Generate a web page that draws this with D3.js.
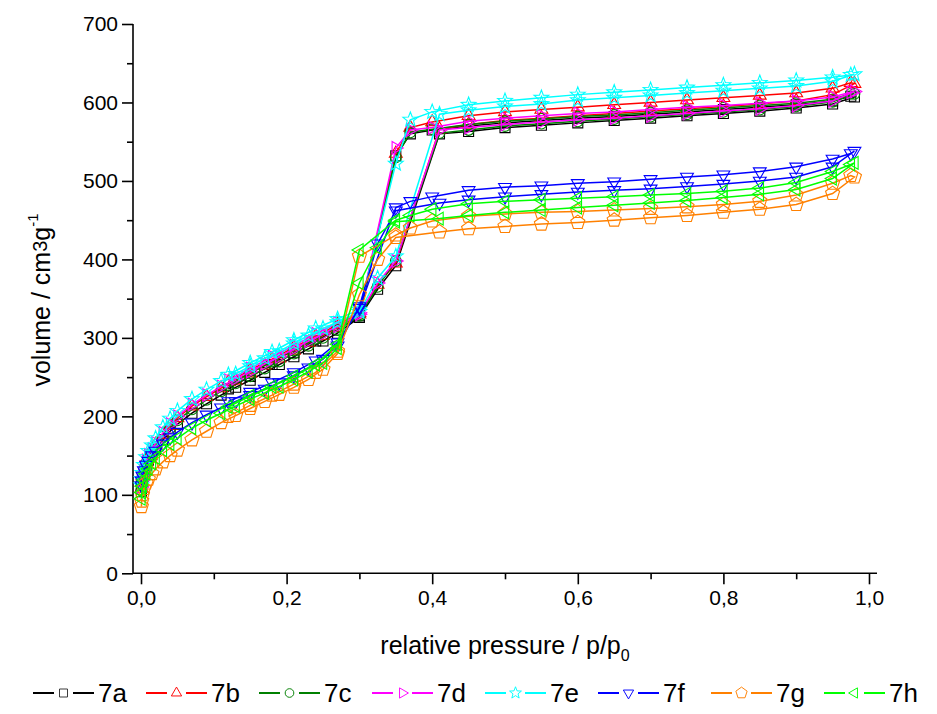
<!DOCTYPE html>
<html>
<head>
<meta charset="utf-8">
<script src="https://cdn.jsdelivr.net/npm/d3@7"></script>
<style>
  html, body { margin: 0; padding: 0; background: #fff; }
  svg { display: block; font-family: "Liberation Sans", Arial, sans-serif; }
</style>
</head>
<body>
<svg id="chart" width="937" height="714"></svg>
<script>
// ---------------- data ----------------
const seriesNames = ["7a", "7b", "7c", "7d", "7e", "7f", "7g", "7h"];
const seriesColors = ["#000000", "#ff0000", "#008000", "#ff00ff", "#00ffff", "#0000ff", "#ff8000", "#00ff00"];
const seriesShapes = ["square", "triUp", "circle", "triRight", "star", "triDown", "pentagon", "triLeft"];

// adsorption branch relative pressures (shared)
const adsP = [0.0005, 0.001, 0.002, 0.004, 0.007, 0.01, 0.015, 0.02, 0.03, 0.04, 0.05, 0.07, 0.09, 0.11, 0.13, 0.15, 0.17, 0.19, 0.21, 0.23, 0.25, 0.27,
              0.30, 0.325, 0.35, 0.41, 0.45, 0.50, 0.55, 0.60, 0.65, 0.70, 0.75, 0.80, 0.85, 0.90, 0.95, 0.98];
// desorption branch relative pressures (shared)
const desP = [0.975, 0.95, 0.90, 0.85, 0.80, 0.75, 0.70, 0.65, 0.60, 0.55, 0.50, 0.45, 0.40, 0.37, 0.35, 0.30, 0.27, 0.24, 0.21, 0.18, 0.15, 0.12];

// adsorbed volume (cm3/g), adsorption branch
const ads7a = [104,112,120,128,137,144,151,158,170,181,190,204,216,227,237,246,256,266,276,286,296,306, 326,362,392,560,563,568,571,574,577,580,583,586,589,593,598,607];
const ads7b = [108,116,124,133,142,149,156,164,177,188,198,213,225,236,246,255,265,274,284,294,303,313, 330,368,395,566,572,577,580,583,586,589,592,595,598,602,610,624];
const ads7c = [106,114,122,131,140,147,154,161,174,185,195,209,221,232,242,251,261,270,280,290,300,310, 328,365,398,561,565,570,573,576,579,582,585,588,591,595,601,611];
const ads7d = [110,118,126,135,144,151,158,166,179,190,200,215,227,238,248,257,267,276,286,296,305,315, 330,370,398,565,568,572,575,578,580,583,586,589,592,596,602,614];
const ads7e = [112,120,128,138,148,156,163,172,186,197,207,222,234,245,254,264,274,283,293,303,312,320, 333,376,404,585,590,595,598,603,606,609,612,615,618,621,627,636];
const ads7f = [112,118,124,131,138,143,150,156,165,173,180,192,202,211,219,227,235,243,252,262,273,290, 340,420,462,472,476,480,483,486,488,490,493,496,500,505,518,538];
const ads7g = [85,92,100,108,115,120,127,133,142,150,157,170,181,192,201,210,219,228,237,247,260,280, 355,400,428,435,439,442,445,447,450,453,456,460,464,470,484,505];
const ads7h = [95,103,111,119,127,133,140,147,157,165,172,185,195,204,213,222,230,238,247,257,268,287, 370,415,448,452,456,460,463,466,469,472,475,479,483,489,503,523];

// adsorbed volume (cm3/g), desorption branch
const des7a = [608,602,597,594,591,588,585,582,580,577,574,570,565,560,532,328,310,296,281,266,251,235];
const des7b = [625,618,612,609,606,603,600,597,594,591,588,583,575,568,535,332,317,302,288,273,259,244];
const des7c = [611,604,599,596,593,590,587,584,582,579,576,572,566,562,530,330,314,299,284,270,255,240];
const des7d = [613,607,602,599,596,594,591,588,586,583,580,576,568,565,542,332,319,305,290,276,261,246];
const des7e = [635,632,628,625,622,619,616,613,610,606,602,597,588,578,522,336,324,312,297,282,268,253];
const des7f = [535,528,518,512,508,505,502,499,497,494,492,488,480,474,466,338,294,271,256,243,231,219];
const des7g = [507,497,482,474,470,467,465,463,461,460,458,455,449,440,431,404,283,256,241,227,214,200];
const des7h = [521,512,498,491,487,484,482,480,478,476,474,471,464,456,450,412,292,266,251,238,226,212];

const adsValues = [ads7a, ads7b, ads7c, ads7d, ads7e, ads7f, ads7g, ads7h];
const desValues = [des7a, des7b, des7c, des7d, des7e, des7f, des7g, des7h];

const xTicksMajor = [0, 0.2, 0.4, 0.6, 0.8, 1.0];
const xTicksMinor = [0.1, 0.3, 0.5, 0.7, 0.9];
const yTicksMajor = [0, 100, 200, 300, 400, 500, 600, 700];
const yTicksMinor = [50, 150, 250, 350, 450, 550, 650];

// ---------------- drawing ----------------
const svg = d3.select("#chart");
const x = d3.scaleLinear().domain([-0.011, 1.011]).range([133, 877]);
const y = d3.scaleLinear().domain([0, 700]).range([573.3, 24]);

const fmtX = v => d3.format(".1f")(v).replace(".", ",");

// x axis
const gx = svg.append("g").attr("transform", `translate(0,${y(0)})`);
gx.call(d3.axisBottom(x).tickValues(xTicksMajor).tickSize(11).tickPadding(6).tickFormat(fmtX));
gx.append("g").call(d3.axisBottom(x).tickValues(xTicksMinor).tickSize(6).tickFormat(""));
// y axis
const gy = svg.append("g").attr("transform", `translate(${x.range()[0]},0)`);
gy.call(d3.axisLeft(y).tickValues(yTicksMajor).tickSize(11).tickPadding(4).tickFormat(d3.format("d")));
gy.append("g").call(d3.axisLeft(y).tickValues(yTicksMinor).tickSize(6).tickFormat(""));

svg.selectAll(".domain").attr("stroke", "#000").attr("stroke-width", 1.6);
svg.selectAll(".tick line").attr("stroke", "#000").attr("stroke-width", 1.6);
svg.selectAll(".tick text").attr("fill", "#000").style("font-size", "21px")
   .style("font-family", '"Liberation Sans", Arial, sans-serif');
gx.selectAll("path.domain").attr("d", `M${x.range()[0]},0H${x.range()[1]}`);
gy.selectAll("path.domain").attr("d", `M0,${y.range()[1]}V${y.range()[0]}`);
gx.selectAll("g > g path.domain").remove();
gy.selectAll("g > g path.domain").remove();

// axis titles
const xt = svg.append("text").attr("x", 505).attr("y", 654).attr("text-anchor", "middle")
  .style("font-size", "25px").attr("fill", "#000");
xt.append("tspan").text("relative pressure / p/p");
xt.append("tspan").attr("dy", 7).style("font-size", "16px").text("0");

const yt = svg.append("text").attr("transform", "translate(50,300) rotate(-90)").attr("text-anchor", "middle")
  .style("font-size", "25px").attr("fill", "#000");
yt.append("tspan").text("volume / cm");
yt.append("tspan").style("font-size", "20px").attr("dy", -3).text("3");
yt.append("tspan").attr("dy", 3).text("g");
yt.append("tspan").style("font-size", "15px").attr("dy", -12).text("-1");

// marker shapes
function markerPath(shape) {
  const p = d3.path();
  const poly = (n, r, rot) => {
    for (let k = 0; k < n; k++) {
      const a = (rot + k * 360 / n) * Math.PI / 180;
      const px = r * Math.cos(a), py = r * Math.sin(a);
      if (k === 0) p.moveTo(px, py); else p.lineTo(px, py);
    }
    p.closePath();
  };
  switch (shape) {
    case "square": p.rect(-5, -5, 10, 10); break;
    case "circle": p.arc(0, 0, 5.4, 0, 2 * Math.PI); p.closePath(); break;
    case "triUp": poly(3, 7.4, -90); break;
    case "triDown": poly(3, 7.4, 90); break;
    case "triRight": poly(3, 7.4, 0); break;
    case "triLeft": poly(3, 7.4, 180); break;
    case "pentagon": poly(5, 7.4, -90); break;
    case "star": {
      for (let k = 0; k < 10; k++) {
        const r = k % 2 === 0 ? 7.8 : 3.3;
        const a = (-90 + k * 36) * Math.PI / 180;
        const px = r * Math.cos(a), py = r * Math.sin(a);
        if (k === 0) p.moveTo(px, py); else p.lineTo(px, py);
      }
      p.closePath();
      break;
    }
  }
  return p.toString();
}

const line = d3.line().x(d => x(d[0])).y(d => y(d[1]));
const plot = svg.append("g");

seriesNames.forEach((name, i) => {
  const pts = adsP.map((p, j) => [p, adsValues[i][j]])
    .concat(desP.map((p, j) => [p, desValues[i][j]]));
  const g = plot.append("g").attr("class", "series-" + name);
  g.append("path").datum(pts).attr("d", line)
    .attr("fill", "none").attr("stroke", seriesColors[i]).attr("stroke-width", 1.5);
  g.selectAll("path.m").data(pts).enter().append("path").attr("class", "m")
    .attr("d", markerPath(seriesShapes[i]))
    .attr("transform", d => `translate(${x(d[0])},${y(d[1])})`)
    .attr("fill", "none").attr("stroke", seriesColors[i]).attr("stroke-width", 1.1);
});

// legend
const legendX = d3.scalePoint().domain(seriesNames).range([33, 824]);
const legY = 693;
const lg = svg.append("g");
seriesNames.forEach((name, i) => {
  const x0 = legendX(name);
  const g = lg.append("g");
  g.append("line").attr("x1", x0).attr("x2", x0 + 21).attr("y1", legY).attr("y2", legY)
    .attr("stroke", seriesColors[i]).attr("stroke-width", 2);
  g.append("line").attr("x1", x0 + 40).attr("x2", x0 + 61).attr("y1", legY).attr("y2", legY)
    .attr("stroke", seriesColors[i]).attr("stroke-width", 2);
  g.append("path").attr("d", markerPath(seriesShapes[i]))
    .attr("transform", `translate(${x0 + 30.5},${legY}) scale(0.8)`)
    .attr("fill", "none").attr("stroke", i === 0 ? "#333" : seriesColors[i]).attr("stroke-width", 1.2);
  g.append("text").attr("x", x0 + 65).attr("y", legY + 9).style("font-size", "26px")
    .attr("fill", "#000").text(name);
});
</script>
</body>
</html>
